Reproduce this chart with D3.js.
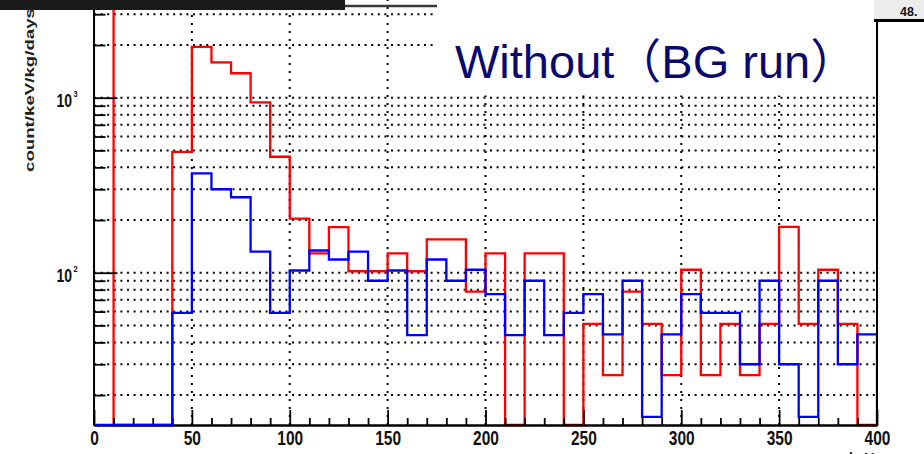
<!DOCTYPE html>
<html><head><meta charset="utf-8">
<script src="https://cdn.jsdelivr.net/npm/d3@7/dist/d3.min.js"></script>
<style>body{margin:0;background:#fff;overflow:hidden} svg{display:block}</style>
</head><body>
<svg id="c" width="924" height="454"></svg>
<script>
// ---------- data ----------
const binEdges = [0,10,20,30,40,50,60,70,80,90,100,110,120,130,140,150,160,170,180,190,200,
                  210,220,230,240,250,260,270,280,290,300,310,320,330,340,350,360,370,380,390,400];
const redCounts = [20000,0,0,0,490,1950,1590,1380,940,460,204,129,182,102,102,129,102,155,155,78,
                   129,0,129,129,0,51,26,78,51,26,104,26,51,26,51,183,51,104,51,0];
const blueCounts = [0,0,0,0,59,370,300,270,132,59,103,134,119,132,90,103,44,119,90,104,
                    75.5,44,90,44,59,75.5,44.5,90,15,44.5,75.5,59,59,30,90,30,15,90,30,44.5];
const xMajorTicks = [0,50,100,150,200,250,300,350,400];
const xMinorTicks = [10,20,30,40,60,70,80,90,110,120,130,140,160,170,180,190,210,220,230,240,
                     260,270,280,290,310,320,330,340,360,370,380,390];
const xGridTicks = [50,100,150,200,250,300,350];
const yDecades = [100,1000];
const yDecadeLabels = [["10","2"],["10","3"]];
const yMinorTicks = [20,30,40,50,60,70,80,90,200,300,400,500,600,700,800,900,2000,3000];
const yDomain = [13.49, 4125];
const xDomain = [0, 400];
const title = "Without\uFF08BG run\uFF09";
const yTitle = "count/keV/kg/days";
const xTitle = "keV";
const statsText = "48.";

// ---------- layout ----------
const L = 94, R = 877, B = 425, T = -10;
const svg = d3.select("#c");
const x = d3.scaleLinear(xDomain, [L, R]);
const y = d3.scaleLog(yDomain, [B, T]);
const FONT = "'Liberation Sans', Arial, Helvetica, sans-serif";

// grid
const grid = svg.append("g");
grid.selectAll("line.v").data(xGridTicks).join("line")
  .attr("x1", d => x(d)).attr("x2", d => x(d)).attr("y1", B).attr("y2", T)
  .attr("stroke", "#000").attr("stroke-width", 2).attr("stroke-dasharray", "2,6");
grid.selectAll("line.h").data(yMinorTicks.concat(yDecades)).join("line")
  .attr("x1", L).attr("x2", R).attr("y1", d => y(d)).attr("y2", d => y(d))
  .attr("stroke", "#000").attr("stroke-width", 2).attr("stroke-dasharray", "2,4.6");

// white title box covering the grid (pasted text box in the original)
svg.append("rect").attr("x", 437).attr("y", 0).attr("width", 438).attr("height", 95.5).attr("fill", "#fff");

// clip
svg.append("clipPath").attr("id", "clip").append("rect")
  .attr("x", L + 1.5).attr("y", -20).attr("width", R - L - 1.5).attr("height", B + 5 + 20);

function stepPoints(counts) {
  const pts = [[xDomain[0], 0]];
  counts.forEach((c, i) => { pts.push([binEdges[i], c]); pts.push([binEdges[i + 1], c]); });
  pts.push([xDomain[1], 0]);
  return pts;
}
const line = d3.line()
  .x(d => x(d[0]))
  .y(d => d[1] <= yDomain[0] ? y(yDomain[0]) : y(Math.min(d[1], 1e6)));

function drawHist(counts, color) {
  svg.append("path").attr("clip-path", "url(#clip)")
    .attr("d", line(stepPoints(counts)))
    .attr("fill", "none").attr("stroke", color).attr("stroke-width", 2.3)
    .attr("stroke-linejoin", "miter");
}

drawHist(redCounts, "#ff0000");

// axes
const axStyle = g => {
  g.selectAll("path.domain").attr("stroke", "#000").attr("stroke-width", 2);
  g.selectAll(".tick line").attr("stroke", "#000").attr("stroke-width", 1.8);
  g.selectAll(".tick text").remove();
};
svg.append("g").attr("transform", `translate(0,${B})`)
  .call(d3.axisBottom(x).tickValues(xMinorTicks).tickSize(-7).tickSizeOuter(0).tickFormat(""))
  .call(axStyle);
const xAx = svg.append("g").attr("transform", `translate(0,${B})`)
  .call(d3.axisBottom(x).tickValues(xMajorTicks).tickSize(-15).tickSizeOuter(0));
xAx.selectAll("path.domain").attr("stroke", "#000").attr("stroke-width", 2);
xAx.selectAll(".tick line").attr("stroke", "#000").attr("stroke-width", 1.8);
xAx.selectAll(".tick text")
  .attr("y", 0).attr("dy", null)
  .attr("transform", "translate(0,19.5) scale(1,1.3)")
  .attr("font-family", FONT).attr("font-weight", "bold").attr("font-size", 15.5)
  .attr("fill", "#111").attr("text-anchor", "middle");

svg.append("g").attr("transform", `translate(${L - 0.5},0)`)
  .call(d3.axisLeft(y).tickValues(yMinorTicks).tickSize(-12).tickSizeOuter(0).tickFormat(""))
  .call(axStyle);
svg.append("g").attr("transform", `translate(${L - 0.5},0)`)
  .call(d3.axisLeft(y).tickValues(yDecades).tickSize(-24).tickSizeOuter(0).tickFormat(""))
  .call(axStyle);

// y decade labels
const yl = svg.append("g");
yDecades.forEach((v, i) => {
  const g = yl.append("g").attr("transform", `translate(72,${y(v) + 9}) scale(1,1.25)`);
  g.append("text").attr("text-anchor", "end")
    .attr("font-family", FONT).attr("font-weight", "bold").attr("font-size", 14).attr("fill", "#111")
    .text(yDecadeLabels[i][0]);
  g.append("text").attr("x", 1.5).attr("y", -8)
    .attr("font-family", FONT).attr("font-weight", "bold").attr("font-size", 7.5).attr("fill", "#111")
    .text(yDecadeLabels[i][1]);
});

drawHist(blueCounts, "#0000ff");

// right frame edge
svg.append("line").attr("x1", R).attr("x2", R).attr("y1", 20).attr("y2", B + 1)
  .attr("stroke", "#000").attr("stroke-width", 2);

// decorations (cropped screenshot remnants)
svg.append("rect").attr("x", 0).attr("y", 0).attr("width", 345).attr("height", 10).attr("fill", "#1a1a1a");
svg.append("line").attr("x1", 345).attr("x2", 437).attr("y1", 6).attr("y2", 6)
  .attr("stroke", "#3a3a3a").attr("stroke-width", 2.5);
svg.append("rect").attr("x", 874).attr("y", 0).attr("width", 50).attr("height", 20).attr("fill", "#ececec");
svg.append("line").attr("x1", 874).attr("x2", 924).attr("y1", 20.5).attr("y2", 20.5)
  .attr("stroke", "#000").attr("stroke-width", 3);
svg.append("text").attr("x", 900).attr("y", 15.5)
  .attr("font-family", FONT).attr("font-weight", "bold").attr("font-size", 12.5).attr("fill", "#111")
  .text(statsText);

// axis titles
svg.append("text").attr("transform", "translate(34,172) rotate(-90)")
  .attr("text-anchor", "start").attr("textLength", 164).attr("lengthAdjust", "spacingAndGlyphs")
  .attr("font-family", FONT).attr("font-weight", "bold").attr("font-size", 12.5).attr("fill", "#222")
  .text(yTitle);
svg.append("text").attr("x", 874).attr("y", 463).attr("text-anchor", "end")
  .attr("font-family", FONT).attr("font-weight", "bold").attr("font-size", 14).attr("fill", "#222")
  .text(xTitle);

// title
svg.append("text").attr("x", 455).attr("y", 78)
  .attr("font-family", "'Liberation Sans', Arial, 'Noto Sans CJK JP', sans-serif")
  .attr("font-size", 47).attr("fill", "#0a0a6e")
  .text(title);
</script>
</body></html>
